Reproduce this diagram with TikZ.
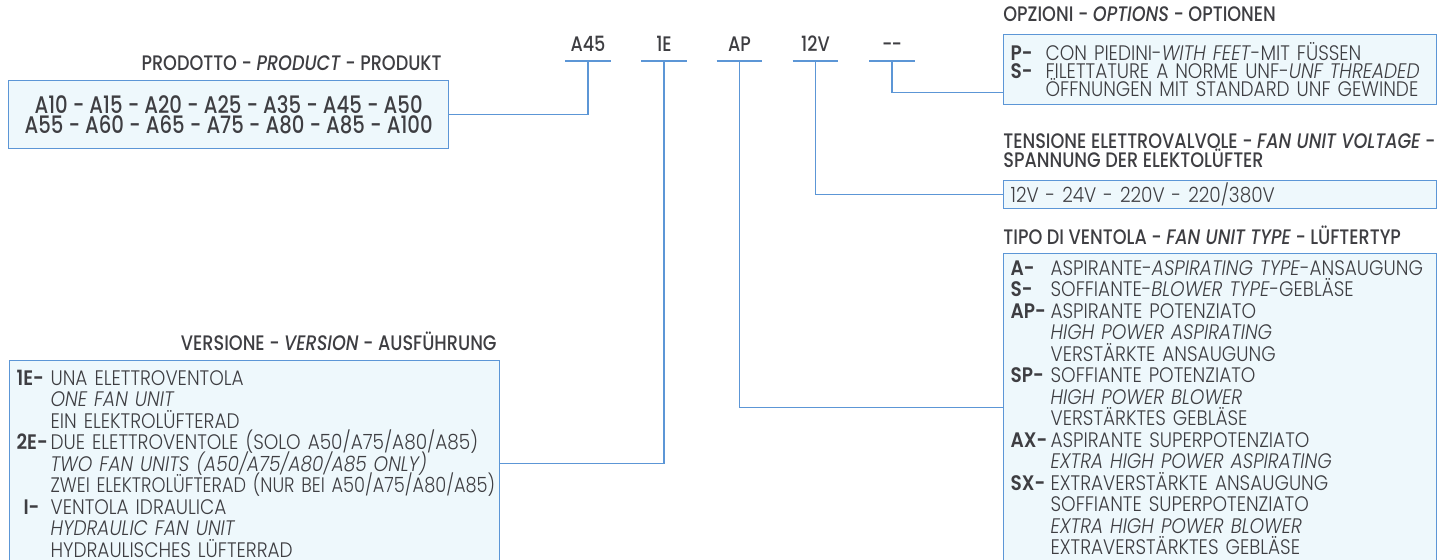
\documentclass[tikz,border=0pt]{standalone}
\usepackage{fontspec}
\usepackage{graphicx}
\setmainfont{Poppins}[UprightFont=* Light, ItalicFont=* Light Italic, BoldFont=* SemiBold, BoldItalicFont=* SemiBold Italic, FakeStretch=0.88]
\newfontfamily\headfont{Poppins}[UprightFont=* Medium, ItalicFont=* Medium Italic, FakeStretch=0.84]
\newfontfamily\prodfont{Poppins}[UprightFont=* Medium, FakeStretch=0.82]
\definecolor{wireblue}{RGB}{92,150,214}
\definecolor{boxfill}{RGB}{238,248,252}
\definecolor{inkgray}{RGB}{62,62,66}
% fixed line pitch, whatever the glyphs
\newcommand{\tight}{\lineskiplimit=-10pt\relax}
% code column in front of each line
\newcommand{\code}[2][20pt]{\makebox[#1][l]{\bfseries #2}}
\newcommand{\squeeze}[1]{\scalebox{0.96}[1]{#1}}
\tikzset{
  wire/.style={draw=wireblue, line width=0.6pt},
  listbox/.style={draw=wireblue, fill=boxfill, line width=0.6pt, anchor=north west,
    align=left, inner ysep=0pt, text=inkgray, font=\fontsize{10.5}{10.75}\selectfont\tight},
  headtxt/.style={inner sep=0pt, text=inkgray, font=\headfont\fontsize{10.5}{10.75}\selectfont},
  codelbl/.style={anchor=south, minimum width=22.5pt, inner xsep=0pt, inner ysep=4.5pt,
    text depth=0pt, text=inkgray, font=\headfont\fontsize{10.5}{10.75}\selectfont}
}
\begin{document}
\begin{tikzpicture}[x=0.5pt, y=-0.5pt]
  \useasboundingbox[fill=white] (0,0) rectangle (1438,559);

  % product
  \node[headtxt, anchor=base east] (prodhead) at (442,70.5) {PRODOTTO - \textit{PRODUCT} - PRODUKT};
  \node[listbox, align=center, minimum width=220pt, inner xsep=0pt, minimum height=34pt,
    font=\prodfont\fontsize{12}{10}\selectfont\tight] (prodbox) at (8,80)
    {A10 - A15 - A20 - A25 - A35 - A45 - A50\\A55 - A60 - A65 - A75 - A80 - A85 - A100};

  % code of the example
  \foreach \name/\lbl/\x in {cA/A45/588, cE/1E/664, cP/AP/739.5, cV/12V/815.5, cO/{-\kern-0.4pt-}/892} {
    \node[codelbl] (\name) at (\x,61) {\lbl};
    \draw[wire] (\name.south west) -- (\name.south east);
  }

  % options
  \node[headtxt, anchor=base west] (opthead) at (1003,21.5) {OPZIONI - \textit{OPTIONS} - OPTIONEN};
  \node[listbox, text width=209.5pt, inner xsep=3.5pt, minimum height=35pt,
    font=\fontsize{10.5}{9}\selectfont\tight] (optbox) at (1003,34)
    {\code[17.5pt]{P-}CON PIEDINI-\textit{WITH FEET}-MIT FÜSSEN\\
     \code[17.5pt]{S-}FILETTATURE A NORME UNF-\textit{UNF THREADED}\\
     \code[17.5pt]{}ÖFFNUNGEN MIT STANDARD UNF GEWINDE};

  % voltage
  \node[headtxt, anchor=base west] (volthead) at (1003,148.5) {TENSIONE ELETTROVALVOLE - \textit{FAN UNIT VOLTAGE} -};
  \node[headtxt, anchor=base west] (volthead2) at (1003,167.5) {SPANNUNG DER ELEKTOLÜFTER};
  \node[listbox, text width=209.5pt, inner xsep=3.5pt, minimum height=14pt] (voltbox) at (1003,180)
    {12V - 24V - 220V - 220/380V};

  % fan unit type
  \node[headtxt, anchor=base west] (typehead) at (1003,244.5) {TIPO DI VENTOLA - \textit{FAN UNIT TYPE} - LÜFTERTYP};
  \node[listbox, text width=209.5pt, inner xsep=3.5pt, minimum height=154pt] (typebox) at (1003,253)
    {\code{A-}ASPIRANTE-\textit{ASPIRATING TYPE}-ANSAUGUNG\\
     \code{S-}SOFFIANTE-\textit{BLOWER TYPE}-GEBLÄSE\\
     \code{AP-}ASPIRANTE POTENZIATO\\
     \code{}\textit{HIGH POWER ASPIRATING}\\
     \code{}VERSTÄRKTE ANSAUGUNG\\
     \code{SP-}SOFFIANTE POTENZIATO\\
     \code{}\textit{HIGH POWER BLOWER}\\
     \code{}VERSTÄRKTES GEBLÄSE\\
     \code{AX-}ASPIRANTE SUPERPOTENZIATO\\
     \code{}\textit{EXTRA HIGH POWER ASPIRATING}\\
     \code{SX-}EXTRAVERSTÄRKTE ANSAUGUNG\\
     \code{}SOFFIANTE SUPERPOTENZIATO\\
     \code{}\textit{EXTRA HIGH POWER BLOWER}\\
     \code{}EXTRAVERSTÄRKTES GEBLÄSE};

  % version
  \node[headtxt, anchor=base east] (verhead) at (497,350.5) {VERSIONE - \textit{VERSION} - AUSFÜHRUNG};
  \node[listbox, text width=238pt, inner xsep=3.5pt, minimum height=103pt] (verbox) at (9,360)
    {\code[17pt]{1E-}UNA ELETTROVENTOLA\\
     \code[17pt]{}\textit{ONE FAN UNIT}\\
     \code[17pt]{}EIN ELEKTROLÜFTERAD\\
     \code[17pt]{2E-}DUE ELETTROVENTOLE (SOLO A50/A75/A80/A85)\\
     \code[17pt]{}\textit{TWO FAN UNITS (A50/A75/A80/A85 ONLY)}\\
     \code[17pt]{}\squeeze{ZWEI ELEKTROLÜFTERAD (NUR BEI A50/A75/A80/A85)}\\
     \code[17pt]{\,\,I-}VENTOLA IDRAULICA\\
     \code[17pt]{}\textit{HYDRAULIC FAN UNIT}\\
     \code[17pt]{}HYDRAULISCHES LÜFTERRAD};

  % connectors
  \draw[wire] (cA.south) |- (prodbox.east);
  \draw[wire] (cE.south) |- (verbox.east);
  \draw[wire] (cP.south) |- (typebox.west);
  \draw[wire] (cV.south) |- (voltbox.west);
  \draw[wire] (cO.south) |- ([yshift=-11.25pt]optbox.west);
\end{tikzpicture}
\end{document}
